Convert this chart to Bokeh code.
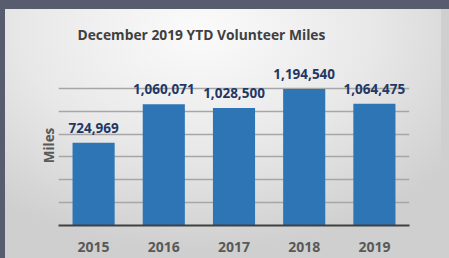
from bokeh.plotting import figure
from bokeh.models import (ColumnDataSource, LabelSet, Range1d,
                          FixedTicker, InlineStyleSheet)
from bokeh.core.properties import value
from bokeh.embed import file_html
from bokeh.resources import INLINE

years = ["2015", "2016", "2017", "2018", "2019"]
miles = [724969, 1060071, 1028500, 1194540, 1064475]
labels = [f"{m:,}" for m in miles]
grid_ticks = [0, 200000, 400000, 600000, 800000, 1000000, 1200000, 1400000]
y_max = 1400000

title_text = "December 2019 YTD Volunteer Miles"
y_title = "Miles"

src = ColumnDataSource(dict(year=years, miles=miles, label=labels))

p = figure(x_range=years, y_range=Range1d(0, y_max), width=441, height=258,
           output_backend="svg", toolbar_location=None,
           min_border_left=58, min_border_right=32, min_border_top=64, min_border_bottom=33)

css = (":host{background:"
       "linear-gradient(to right, #575d6e 0px, #575d6e 5px, transparent 5px),"
       "linear-gradient(to bottom, #575d6e 0px, #575d6e 9px, transparent 9px),"
       "radial-gradient(ellipse 72% 85% at 45% 12%, #fbfbfb 0%, #e8e8e8 55%, #cfcfcf 100%);}")
p.stylesheets = [InlineStyleSheet(css=css)]
p.border_fill_alpha = 0
p.background_fill_alpha = 0
p.outline_line_color = None

p.vbar(x="year", top="miles", width=0.6, source=src, color="#2E75B6", line_color=None)

p.xgrid.grid_line_color = None
p.ygrid.ticker = FixedTicker(ticks=grid_ticks)
p.ygrid.grid_line_color = "#a6a6a6"
p.ygrid.grid_line_width = 1.5
p.ygrid.level = "underlay"

p.title.text = title_text
p.title.align = "left"
p.title.offset = 19
p.title.standoff = 44
p.title.text_font = "Open Sans"
p.title.text_font_style = "bold"
p.title.text_font_size = "13.8px"
p.title.text_color = "#404040"

p.xaxis.axis_line_color = "#404040"
p.xaxis.axis_line_width = 2
p.xaxis.major_tick_line_color = None
p.xaxis.minor_tick_line_color = None
p.xaxis.major_label_text_font = "Open Sans"
p.xaxis.major_label_text_font_style = "bold"
p.xaxis.major_label_text_font_size = "14px"
p.xaxis.major_label_text_color = "#595959"
p.xaxis.major_label_standoff = 10

p.yaxis.ticker = FixedTicker(ticks=[])
p.yaxis.axis_label = y_title
p.yaxis.axis_label_text_font = "Open Sans"
p.yaxis.axis_label_text_font_style = "bold"
p.yaxis.axis_label_text_font_size = "13.5px"
p.yaxis.axis_label_text_color = "#595959"
p.yaxis.axis_label_standoff = 1
p.yaxis.major_label_standoff = 0
p.yaxis.major_tick_line_color = None
p.yaxis.minor_tick_line_color = None
p.yaxis.axis_line_color = None
p.yaxis.major_tick_out = 0

p.add_layout(LabelSet(x="year", y="miles", text="label", source=src,
                      text_align="center", text_baseline="alphabetic", y_offset=10,
                      text_font=value("Open Sans"), text_font_style="bold",
                      text_font_size="13.5px", text_color="#1F3864"))

html = file_html(p, INLINE)
html = html.replace("</head>",
                    "<style>html,body{background:linear-gradient(to bottom,#575d6e 0px,#575d6e 9px,#cfcfcf 9px) no-repeat;"
                    "background-color:#cfcfcf;overflow:hidden;}</style></head>", 1)
open("out.html", "w").write(html)
